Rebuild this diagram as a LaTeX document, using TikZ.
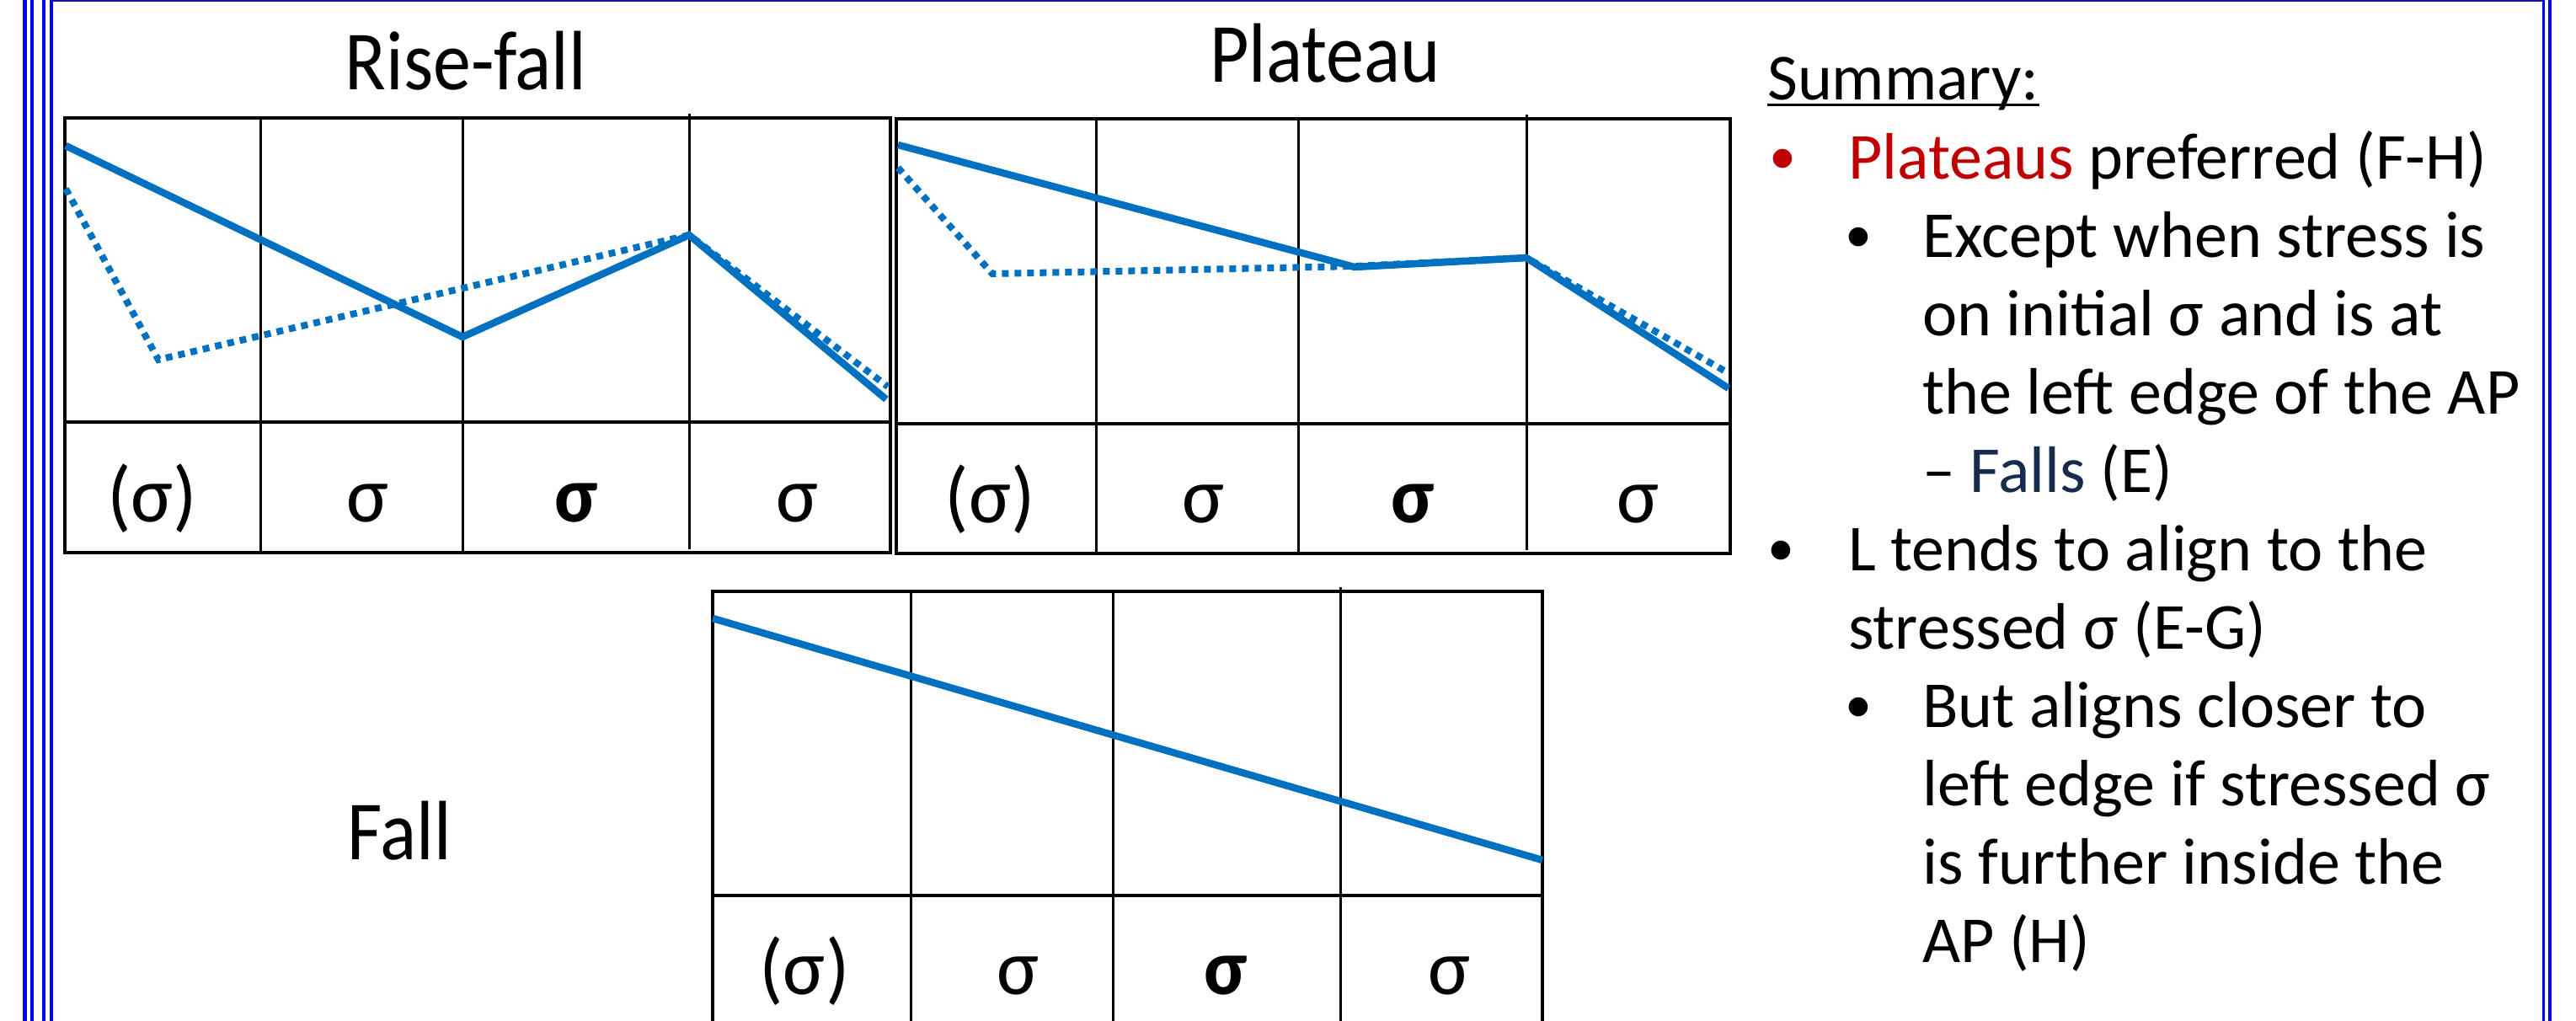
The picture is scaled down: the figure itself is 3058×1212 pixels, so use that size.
\documentclass[tikz,border=0pt]{standalone}
\usepackage{fontspec}
\setmainfont{Carlito}
\newfontfamily\titlefont[FakeStretch=0.9]{Carlito}
\definecolor{lineblue}{RGB}{0,112,192}
\definecolor{frameblue}{RGB}{0,0,255}
\definecolor{topblue}{RGB}{20,20,160}
\definecolor{plateaured}{RGB}{192,0,0}
\definecolor{fallsnavy}{RGB}{23,43,77}
\tikzset{
  outerln/.style={draw=black, line width=3.5pt},
  innerln/.style={draw=black, line width=3pt},
  contour/.style={draw=lineblue, line width=8.5pt, line join=miter},
  dotcontour/.style={draw=lineblue, line width=8pt, dash pattern=on 8pt off 7pt},
  framev/.style={draw=frameblue, line width=4.5pt},
  ttl/.style={anchor=base, inner sep=0pt, font=\titlefont\fontsize{100}{110}\selectfont},
  syl/.style={anchor=base, inner sep=0pt, font=\fontsize{94}{100}\selectfont},
  txt/.style={anchor=base west, inner sep=0pt, font=\fontsize{78}{90}\selectfont},
  bul/.style={anchor=base west, inner sep=0pt, font=\fontsize{64}{70}\selectfont},
}
\begin{document}
\begin{tikzpicture}[x=1pt,y=-1pt]
\useasboundingbox (0,0) rectangle (3058,1212);
\fill[white] (0,0) rectangle (3058,1212);
% slide frame
\foreach \xx in {29.5,38,52,61} {\draw[framev] (\xx,0) -- (\xx,1212);}
\draw[topblue, line width=2.5pt] (61,1) -- (3019,1);
\draw[frameblue, line width=3pt] (3019,0) -- (3019,1212);
\draw[frameblue, line width=4pt] (3027,0) -- (3027,1212);

% ---- Table 1: Rise-fall
\draw[outerln] (77,140) rectangle (1057,656);
\draw[outerln] (77,501) -- (1057,501);
\draw[innerln] (309,140) -- (309,656);
\draw[innerln] (549,140) -- (549,656);
\draw[innerln] (818,135) -- (818,652);
\draw[dotcontour] (78,224) -- (188,427) -- (818,279) -- (1054,459);
\draw[contour] (78,173) -- (549,400) -- (818,279) -- (1052,474);
\node[ttl] (t1) at (553,107) {Rise-fall};
\node[syl] (a1) at (181,619) {(σ)};
\node[syl] (a2) at (436,619) {σ};
\node[syl] (a3) at (684,619) {\bfseries σ};
\node[syl] (a4) at (946,619) {σ};

% ---- Table 2: Plateau
\draw[outerln] (1064,141) rectangle (2054,657);
\draw[outerln] (1064,503) -- (2054,503);
\draw[innerln] (1301,141) -- (1301,657);
\draw[innerln] (1541,141) -- (1541,657);
\draw[innerln] (1812,136) -- (1812,653);
\draw[dotcontour] (1066,199) -- (1178,325) -- (1608,316) -- (1812,306) -- (2052,443);
\draw[contour] (1066,172) -- (1608,317) -- (1812,306) -- (2052,461);
\node[ttl] (t2) at (1573,98) {Plateau};
\node[syl] (b1) at (1175,620) {(σ)};
\node[syl] (b2) at (1428,620) {σ};
\node[syl] (b3) at (1677,620) {\bfseries σ};
\node[syl] (b4) at (1944,620) {σ};

% ---- Table 3: Fall
\draw[outerln] (846,1212) -- (846,702) -- (1831,702) -- (1831,1212);
\draw[outerln] (846,1063) -- (1831,1063);
\draw[innerln] (1081,702) -- (1081,1212);
\draw[innerln] (1321,702) -- (1321,1212);
\draw[innerln] (1591,697) -- (1591,1212);
\draw[contour] (846,734) -- (1831,1021);
\node[ttl] (t3) at (474,1020) {Fall};
\node[syl] (c1) at (955,1180) {(σ)};
\node[syl] (c2) at (1208,1180) {σ};
\node[syl] (c3) at (1455,1180) {\bfseries σ};
\node[syl] (c4) at (1720,1180) {σ};

% ---- Summary text
\node[txt] (sum) at (2098,119) {Summary:};
\draw[line width=3pt] ([yshift=-6pt]sum.base west) -- ([yshift=-6pt]sum.base east);
\node[bul, text=plateaured] (bu1) at (2100,206) {•};
\node[txt] (l1) at (2194,212) {\textcolor{plateaured}{Plateaus} preferred (F-H)};
\node[bul] (bu2) at (2190,299) {•};
\node[txt] (l2) at (2282,305) {Except when stress is};
\node[txt] (l3) at (2282,398) {on initial σ and is at};
\node[txt] (l4) at (2282,491) {the left edge of the AP};
\node[txt] (l5) at (2282,584) {– \textcolor{fallsnavy}{Falls} (E)};
\node[bul] (bu3) at (2098,671) {•};
\node[txt] (l6) at (2194,677) {L tends to align to the};
\node[txt] (l7) at (2194,770) {stressed σ (E-G)};
\node[bul] (bu4) at (2190,857) {•};
\node[txt] (l8) at (2282,863) {But aligns closer to};
\node[txt] (l9) at (2282,956) {left edge if stressed σ};
\node[txt] (l10) at (2282,1049) {is further inside the};
\node[txt] (l11) at (2282,1142) {AP (H)};
\end{tikzpicture}
\end{document}
